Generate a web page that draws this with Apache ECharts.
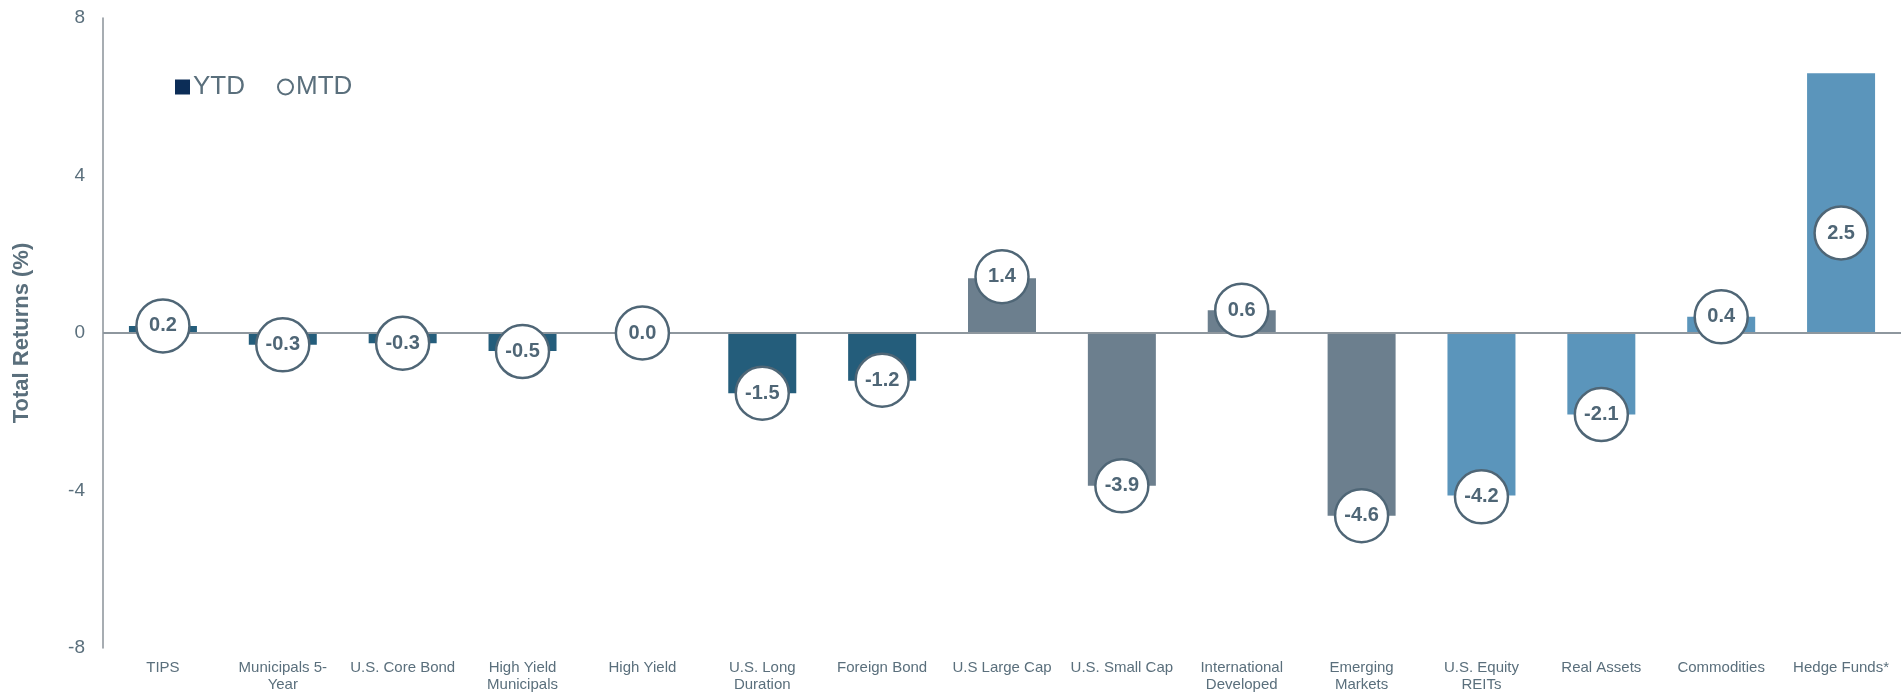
<!DOCTYPE html>
<html>
<head>
<meta charset="utf-8">
<script src="https://cdn.jsdelivr.net/npm/echarts@6/dist/echarts.min.js"></script>
<style>
  html, body { margin: 0; padding: 0; background: #fff; }
  #returns { width: 1901px; height: 693px; }
</style>
</head>
<body>
<div id="returns"></div>
<script>
var categories = ['TIPS', 'Municipals 5-\nYear', 'U.S. Core Bond', 'High Yield\nMunicipals', 'High Yield',
    'U.S. Long\nDuration', 'Foreign Bond', 'U.S Large Cap', 'U.S. Small Cap', 'International\nDeveloped',
    'Emerging\nMarkets', 'U.S. Equity\nREITs', 'Real Assets', 'Commodities', 'Hedge Funds*'];
var ytd = [0.18, -0.3, -0.26, -0.46, 0.0, -1.53, -1.21, 1.39, -3.88, 0.58, -4.64, -4.13, -2.07, 0.41, 6.6];
var mtd = [0.18, -0.3, -0.26, -0.47, 0.0, -1.53, -1.2, 1.43, -3.88, 0.58, -4.64, -4.16, -2.07, 0.41, 2.54];
// group colour per bar: bonds / equities / real assets + alts
var groups = [0, 0, 0, 0, 0, 0, 0, 1, 1, 1, 1, 2, 2, 2, 2];
var groupColors = ['#245d7b', '#6c7f8e', '#5b95bb'];
var yTicks = { min: -8, max: 8, interval: 4 };

var textColor = '#5a6f7c';
var font = '"Liberation Sans", Arial, sans-serif';

var chart = echarts.init(document.getElementById('returns'));

var barData = [];
for (var i = 0; i < ytd.length; i++) {
    barData.push({ value: ytd[i], itemStyle: { color: groupColors[groups[i]] } });
}

var option = {
    animation: false,
    textStyle: { fontFamily: font },
    grid: { left: 103, right: 0, top: 18, bottom: 45, containLabel: false },
    legend: {
        left: 170,
        top: 69,
        itemWidth: 15,
        itemHeight: 15,
        itemGap: 32,
        textStyle: { color: textColor, fontSize: 26, fontFamily: font, padding: [0, 0, 0, -2] },
        data: [
            { name: 'YTD', icon: 'rect', itemStyle: { color: '#0c2d57' } },
            { name: 'MTD', icon: 'circle', itemStyle: { color: '#fff', borderColor: textColor, borderWidth: 2 } }
        ]
    },
    xAxis: {
        type: 'category',
        data: categories,
        axisLine: { show: false, onZero: false },
        axisTick: { show: false },
        axisLabel: {
            interval: 0,
            color: textColor,
            fontSize: 15,
            lineHeight: 17,
            margin: 11,
            fontFamily: font
        },
        splitLine: { show: false }
    },
    yAxis: {
        type: 'value',
        min: yTicks.min,
        max: yTicks.max,
        interval: yTicks.interval,
        name: 'Total Returns (%)',
        nameLocation: 'middle',
        nameGap: 70,
        nameTextStyle: { color: textColor, fontSize: 22, fontWeight: 'bold', fontFamily: font },
        axisLine: { show: true, lineStyle: { color: '#8a9299', width: 1.5 } },
        axisTick: { show: false },
        axisLabel: { color: textColor, fontSize: 19, margin: 18, fontFamily: font },
        splitLine: { show: false }
    },
    series: [{
        name: 'YTD',
        type: 'bar',
        barWidth: 68,
        itemStyle: { color: '#0c2d57' },
        data: barData,
        markLine: {
            silent: true,
            symbol: 'none',
            label: { show: false },
            lineStyle: { color: '#8e979e', width: 2, type: 'solid' },
            data: [{ yAxis: 0 }]
        }
    }, {
        name: 'MTD',
        type: 'scatter',
        symbol: 'circle',
        symbolSize: 53,
        z: 5,
        itemStyle: { color: '#fff', borderColor: '#4f6676', borderWidth: 2.5, opacity: 1 },
        label: {
            show: true,
            position: 'inside',
            color: '#4f6676',
            fontSize: 20,
            fontWeight: 'bold',
            fontFamily: font,
            formatter: function (p) { return p.value.toFixed(1); }
        },
        data: mtd
    }]
};

chart.setOption(option);
window.addEventListener('resize', function () {
    chart.resize();
});
</script>
</body>
</html>
